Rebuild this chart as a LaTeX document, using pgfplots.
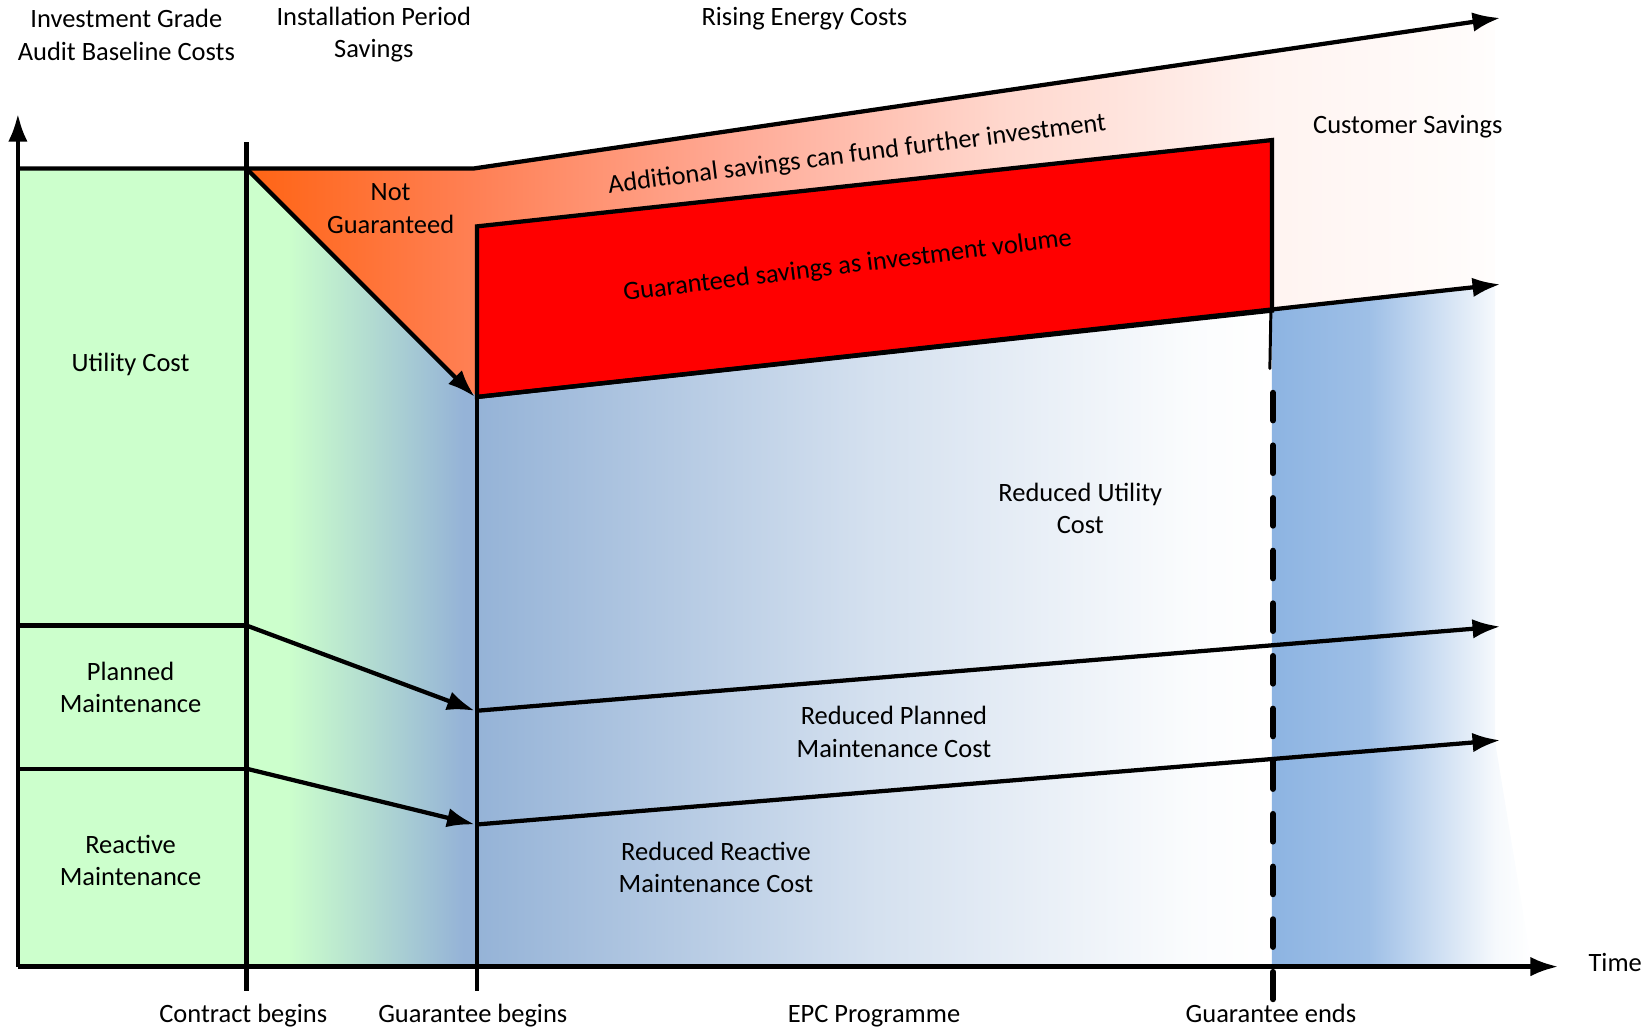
\documentclass[border=0pt]{standalone}
\usepackage{pgfplots}
\pgfplotsset{compat=1.18}
\usepackage{fontspec}
\setmainfont{Carlito}
\usetikzlibrary{arrows.meta}

\definecolor{baseGreen}{RGB}{204,255,204}
\definecolor{epcBlue}{RGB}{149,179,215}
\definecolor{endBlue}{RGB}{141,180,226}
\definecolor{guarRed}{RGB}{255,0,0}
\definecolor{orA}{RGB}{255,100,20}
\definecolor{orB}{RGB}{255,128,85}
\definecolor{orC}{RGB}{255,170,150}
\definecolor{orD}{RGB}{255,215,205}
\definecolor{orE}{RGB}{255,243,240}
\definecolor{orF}{RGB}{255,253,252}

% shadings: the middle 25bp..75bp is stretched over the path's bounding box
\pgfdeclarehorizontalshading{greenblue}{100bp}{color(0bp)=(baseGreen); color(34bp)=(baseGreen); color(72bp)=(epcBlue); color(100bp)=(epcBlue)}
\pgfdeclarehorizontalshading{orangeband}{100bp}{color(0bp)=(orA); color(25bp)=(orA); color(34.2bp)=(orB); color(44.6bp)=(orC); color(55.2bp)=(orD); color(65.7bp)=(orE); color(75bp)=(orF); color(100bp)=(orF)}
\pgfdeclarehorizontalshading{epcfade}{100bp}{color(0bp)=(epcBlue); color(25bp)=(epcBlue); color(50bp)=(epcBlue!40!white); color(70bp)=(epcBlue!4!white); color(75bp)=(white); color(100bp)=(white)}
\pgfdeclarehorizontalshading{endfade}{100bp}{color(0bp)=(endBlue); color(25bp)=(endBlue); color(43.6bp)=(endBlue!85!white); color(68bp)=(endBlue!8!white); color(75bp)=(white); color(100bp)=(white)}

\newcommand\lbl{\fontsize{14.3}{17.5}\selectfont}
\tikzset{
  ln/.style={black, line width=2.3pt},
  arr/.style={ln, -{Latex[length=0.53cm,width=0.37cm]}},
}

\begin{document}
\begin{tikzpicture}
\begin{axis}[name=ax, scale only axis, width=31.36cm, height=19.56cm,
  xmin=0, xmax=1568, ymin=0, ymax=978, y dir=reverse,
  hide axis, clip=false]

% filled areas
\addplot[draw=none, fill=baseGreen] coordinates {(17,160)(234,160)(234,918)(17,918)} -- cycle;
\addplot[draw=none, shading=greenblue] coordinates {(234,160)(453,377)(453,918)(234,918)} -- cycle;
\addplot[draw=none, shading=orangeband] coordinates {(234,160)(450,160)(1420,18)(1420,271)(453,377)} -- cycle;
\addplot[draw=none, shading=epcfade] coordinates {(453,377)(1208,295)(1208,918)(453,918)} -- cycle;
\addplot[draw=none, shading=endfade] coordinates {(1208,295)(1420,271)(1420,705)(1455,918)(1208,918)} -- cycle;
\addplot[ln, fill=guarRed, line join=miter] coordinates {(453,215)(1208,133)(1208,295)(453,377)} -- cycle;

% axes
\addplot[arr] coordinates {(17,918)(17,108)};
\addplot[arr] coordinates {(17,918)(1480,918)};

% baseline and cost lines
\addplot[arr] coordinates {(17,160)(450,160)(1425,17)};
\addplot[arr] coordinates {(453,377)(1425,270)};
\addplot[arr] coordinates {(234,160)(451,377)};
\addplot[ln] coordinates {(17,594)(234,594)};
\addplot[arr] coordinates {(234,594)(451,675)};
\addplot[arr] coordinates {(453,675)(1425,595)};
\addplot[ln] coordinates {(17,730)(234,730)};
\addplot[arr] coordinates {(234,730)(451,783)};
\addplot[arr] coordinates {(453,783)(1425,703)};

% milestones
\addplot[ln] coordinates {(234,135)(234,941)};
\addplot[ln] coordinates {(453,215)(453,941)};
\addplot[black, line width=1.6pt, line cap=round] coordinates {(1207,295)(1206,350)};
\addplot[black, line width=3.2pt, line cap=round, dash pattern=on 0.526cm off 0.474cm] coordinates {(1209,373)(1209,949)};

% labels
\node[font=\lbl, align=center] at (axis cs:120,33) {Investment Grade\\Audit Baseline Costs};
\node[font=\lbl, align=center] at (axis cs:355,33) {Installation Period\\Savings};
\node[font=\lbl] at (axis cs:764,18) {Rising Energy Costs};
\node[font=\lbl] at (axis cs:1337,120) {Customer Savings};
\node[font=\lbl, align=center] at (axis cs:371,198) {Not\\Guaranteed};
\node[font=\lbl, rotate=7.2] at (axis cs:814,147) {Additional savings can fund further investment};
\node[font=\lbl, rotate=7.0] at (axis cs:805,253) {Guaranteed savings as investment volume};
\node[font=\lbl] at (axis cs:124,346) {Utility Cost};
\node[font=\lbl, align=center] at (axis cs:124,653) {Planned\\Maintenance};
\node[font=\lbl, align=center] at (axis cs:124,817) {Reactive\\Maintenance};
\node[font=\lbl, align=center] at (axis cs:1026,483) {Reduced Utility\\Cost};
\node[font=\lbl, align=center] at (axis cs:849,695) {Reduced Planned\\Maintenance Cost};
\node[font=\lbl, align=center] at (axis cs:680,824) {Reduced Reactive\\Maintenance Cost};
\node[font=\lbl] at (axis cs:1534,914) {Time};
\node[font=\lbl, anchor=base] at (axis cs:231,971) {Contract begins};
\node[font=\lbl, anchor=base] at (axis cs:449,971) {Guarantee begins};
\node[font=\lbl, anchor=base] at (axis cs:830,971) {EPC Programme};
\node[font=\lbl, anchor=base] at (axis cs:1207,971) {Guarantee ends};
\end{axis}
\pgfresetboundingbox
\useasboundingbox (ax.south west) rectangle (ax.north east);
\end{tikzpicture}
\end{document}
